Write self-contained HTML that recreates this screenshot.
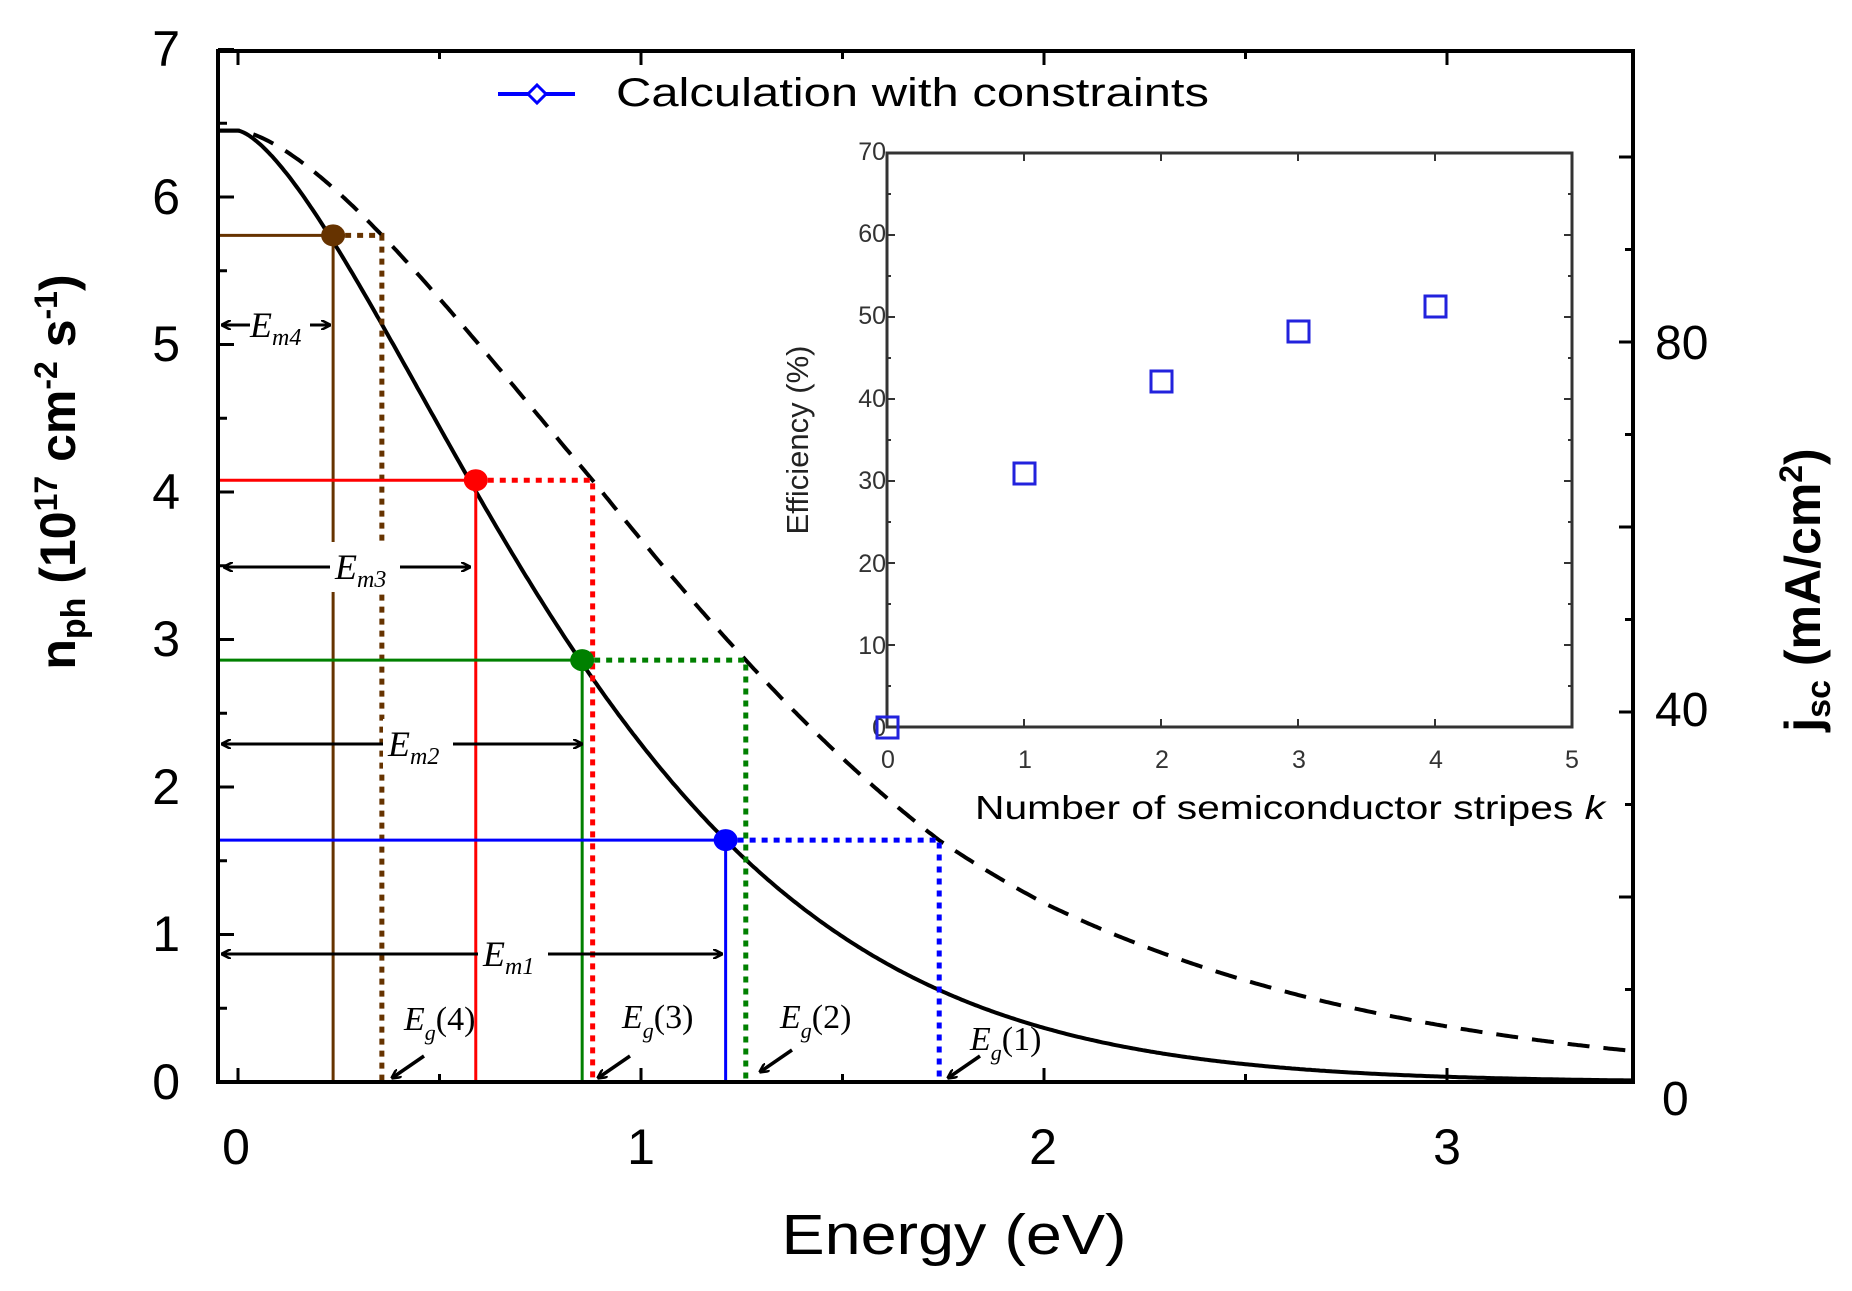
<!DOCTYPE html>
<html><head><meta charset="utf-8"><style>
html,body{margin:0;padding:0;background:#fff;}
svg{display:block;}
text{font-family:"Liberation Sans",sans-serif;}
.ser{font-family:"Liberation Serif",serif;font-style:italic;}
</style></head><body>
<svg id="s" width="1852" height="1291" viewBox="0 0 1852 1291" xmlns="http://www.w3.org/2000/svg">
<defs>
<marker id="ah" markerWidth="10" markerHeight="10" refX="9" refY="5" orient="auto" markerUnits="userSpaceOnUse">
<path d="M0,0 L10,5 L0,10" fill="none" stroke="#000" stroke-width="2.5"/></marker>
</defs>
<rect width="1852" height="1291" fill="#fff"/>
<g id="curves"></g>
<g id="ann"></g>
<rect x="218" y="51" width="1415" height="1031" fill="none" stroke="#000" stroke-width="4"/>
<g id="ticks" stroke="#000" stroke-width="3"></g>
<g font-size="50" text-anchor="end">
<text x="180" y="1099">0</text><text x="180" y="951">1</text><text x="180" y="804">2</text>
<text x="180" y="656">3</text><text x="180" y="509">4</text><text x="180" y="361">5</text>
<text x="180" y="214">6</text><text x="180" y="66">7</text>
</g>
<g font-size="50" text-anchor="middle">
<text x="236" y="1164">0</text><text x="641" y="1164">1</text><text x="1043" y="1164">2</text><text x="1447" y="1164">3</text>
</g>
<text x="954" y="1254" font-size="57" text-anchor="middle" textLength="345" lengthAdjust="spacingAndGlyphs">Energy (eV)</text>
<g font-size="48" text-anchor="start">
<text x="1655" y="359">80</text><text x="1655" y="726">40</text><text x="1662" y="1115">0</text>
</g>
<text transform="translate(75,472) rotate(-90)" font-size="50" font-weight="bold" text-anchor="middle">n<tspan font-size="34" dy="10">ph</tspan><tspan dy="-10"> (10</tspan><tspan font-size="32" dy="-18">17</tspan><tspan dy="18"> cm</tspan><tspan font-size="32" dy="-18">-2</tspan><tspan dy="18"> s</tspan><tspan font-size="32" dy="-18">-1</tspan><tspan dy="18">)</tspan></text>
<text transform="translate(1820,590) rotate(-90)" font-size="50" font-weight="bold" text-anchor="middle">j<tspan font-size="34" dy="10">sc</tspan><tspan dy="-10"> (mA/cm</tspan><tspan font-size="32" dy="-18">2</tspan><tspan dy="18">)</tspan></text>
<line x1="498" y1="94" x2="575" y2="94" stroke="#0000ff" stroke-width="4"/>
<path d="M537,85 L546,94 L537,103 L528,94 Z" fill="#fff" stroke="#0000ff" stroke-width="3"/>
<text x="616" y="106" font-size="40" textLength="593" lengthAdjust="spacingAndGlyphs">Calculation with constraints</text>
<rect x="887" y="153" width="685" height="574" fill="#fff" stroke="#333" stroke-width="3"/>
<g id="inset" stroke="#333" stroke-width="2"></g>
<g font-size="25" fill="#333" text-anchor="end">
<text x="886" y="736">0</text><text x="886" y="654">10</text><text x="886" y="572">20</text><text x="886" y="489">30</text>
<text x="886" y="407">40</text><text x="886" y="324">50</text><text x="886" y="242">60</text><text x="886" y="160">70</text>
</g>
<g font-size="25" fill="#333" text-anchor="middle">
<text x="888" y="768">0</text><text x="1025" y="768">1</text><text x="1162" y="768">2</text><text x="1299" y="768">3</text><text x="1436" y="768">4</text><text x="1572" y="768">5</text>
</g>
<text x="1290" y="819" font-size="33" text-anchor="middle" textLength="630" lengthAdjust="spacingAndGlyphs">Number of semiconductor stripes <tspan font-style="italic">k</tspan></text>
<text transform="translate(808,440) rotate(-90)" font-size="31" fill="#222" text-anchor="middle">Efficiency (%)</text>
<g fill="none" stroke="#2222dd" stroke-width="3">
<rect x="877" y="717" width="21" height="21"/>
<rect x="1014" y="463" width="21" height="21"/>
<rect x="1151" y="371" width="21" height="21"/>
<rect x="1288" y="321" width="21" height="21"/>
<rect x="1425" y="296" width="21" height="21"/>
</g>
</svg>
<script>
(function(){
var NS="http://www.w3.org/2000/svg";
function X(e){return 238+403*e;} function Y(v){return 1082-147.5*v;}
function el(p,tag,a){var e=document.createElementNS(NS,tag);for(var k in a)e.setAttribute(k,a[k]);p.appendChild(e);return e;}
function fs(E){if(E<=0)return 6.45;return 6.45*Math.exp(-1.035*Math.pow(E,1.47));}
var U=[-1.03,-0.128,0.231,0.554,0.693,1.241],W=[-2.15,-0.781,-0.207,0.315,0.513,1.23];
function fd(E){if(E<=0)return 6.45;var u=Math.log(E),w;
  if(u<=U[0])w=W[0]+1.52*(u-U[0]);
  else if(u>=U[5])w=W[5]+1.31*(u-U[5]);
  else{for(var i=0;i<5;i++)if(u<=U[i+1]){w=W[i]+(W[i+1]-W[i])*(u-U[i])/(U[i+1]-U[i]);break;}}
  return 6.45*Math.exp(-Math.exp(w));}
function path(f){var d="";for(var E=-0.05;E<=3.461;E+=0.005){d+=(d?" L":"M")+X(E).toFixed(1)+","+Y(f(E)).toFixed(1);}return d;}
var g=document.getElementById("curves");
el(g,"path",{d:path(fs),fill:"none",stroke:"#000","stroke-width":4});
el(g,"path",{d:path(fd),fill:"none",stroke:"#000","stroke-width":4,"stroke-dasharray":"22,14"});
var sets=[["#663300",0.236,5.74,0.357],["#ff0000",0.59,4.08,0.88],["#008000",0.854,2.86,1.26],["#0000ff",1.21,1.64,1.74]];
sets.forEach(function(s){
  var px=X(s[1]),py=Y(s[2]),dx=X(s[3]);
  el(g,"line",{x1:218,y1:py,x2:px,y2:py,stroke:s[0],"stroke-width":3});
  el(g,"line",{x1:px,y1:py,x2:px,y2:1082,stroke:s[0],"stroke-width":3});
  el(g,"polyline",{points:px+","+py+" "+dx+","+py+" "+dx+",1082",fill:"none",stroke:s[0],"stroke-width":5,"stroke-dasharray":"6,6"});
  el(g,"ellipse",{cx:px,cy:py,rx:12,ry:11,fill:s[0]});
});
var a=document.getElementById("ann");
var ems=[[325,222,330,"4",272],[567,224,470,"3",357],[744,222,582,"2",410],[954,222,722,"1",505]];
ems.forEach(function(e){
  el(a,"line",{x1:(e[1]+e[2])/2,y1:e[0],x2:e[1],y2:e[0],stroke:"#000","stroke-width":3,"marker-end":"url(#ah)"});
  el(a,"line",{x1:(e[1]+e[2])/2,y1:e[0],x2:e[2],y2:e[0],stroke:"#000","stroke-width":3,"marker-end":"url(#ah)"});
  var w=e[3]=="4"?60:70;
  el(a,"rect",{x:e[4]-w/2+8,y:e[0]-25,width:w,height:50,fill:"#fff"});
  var t=el(a,"text",{x:e[4]-22,y:e[0]+12,"font-size":36,"class":"ser"});
  t.textContent="E";
  var ts=el(t,"tspan",{"font-size":24,dy:8});ts.textContent="m"+e[3];
});
var egs=[[392,1078,404,1030,"4"],[598,1078,622,1028,"3"],[760,1072,780,1028,"2"],[948,1078,970,1050,"1"]];
egs.forEach(function(e){
  el(a,"line",{x1:e[0]+32,y1:e[1]-22,x2:e[0],y2:e[1],stroke:"#000","stroke-width":3.5,"marker-end":"url(#ah)"});
  var t=el(a,"text",{x:e[2],y:e[3],"font-size":34,"class":"ser"});t.textContent="E";
  var s=el(t,"tspan",{"font-size":22,dy:10});s.textContent="g";
  var s2=el(t,"tspan",{dy:-10,"font-style":"normal"});s2.textContent="("+e[4]+")";
});
var tk=document.getElementById("ticks");
for(var v=0;v<=7;v+=0.5){var y=Y(v),L=(v%1==0)?16:9;el(tk,"line",{x1:218,y1:y,x2:218+L,y2:y});}
for(var e=0;e<=3.4;e+=0.5){var x=X(e),L=(e%1==0)?14:8;el(tk,"line",{x1:x,y1:1082,x2:x,y2:1082-L});el(tk,"line",{x1:x,y1:51,x2:x,y2:51+L});}
for(var j=0;j<=100;j+=10){var y2=1082-9.25*j;if(y2<55)break;var L2=(j%20==0)?14:8;el(tk,"line",{x1:1633,y1:y2,x2:1633-L2,y2:y2});}
var ins=document.getElementById("inset");
for(var q=0;q<=70;q+=5){var yy=727-8.2*q,l=(q%10==0)?8:4;el(ins,"line",{x1:887,y1:yy,x2:887+l,y2:yy});el(ins,"line",{x1:1572,y1:yy,x2:1572-l,y2:yy});}
for(var k=0;k<=5;k++){var xx=887+137*k;el(ins,"line",{x1:xx,y1:727,x2:xx,y2:719});el(ins,"line",{x1:xx,y1:153,x2:xx,y2:161});}
})();
</script>
</body></html>
